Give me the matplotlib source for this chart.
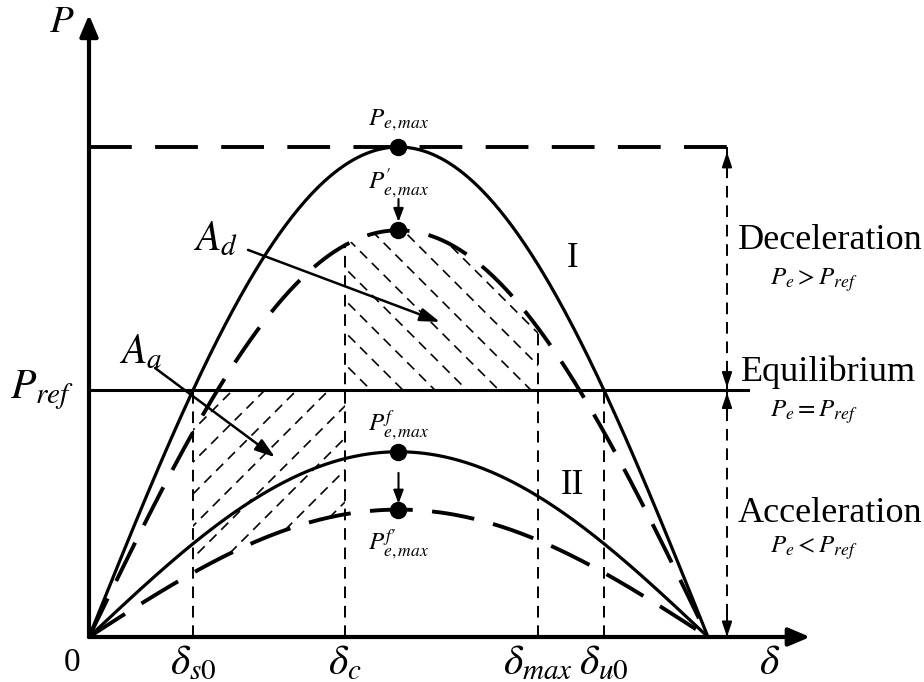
import numpy as np
import matplotlib
matplotlib.use("Agg")
import matplotlib.pyplot as plt
from matplotlib.patches import Polygon

plt.rcParams['mathtext.fontset'] = 'stix'
plt.rcParams['font.family'] = ['Liberation Serif', 'DejaVu Serif']

# peak values of the four power-angle curves (normalised to Pe,max)
p_max = 1.0          # curve I, pre-fault
p_max_prime = 0.83   # curve I, reduced
p_f = 0.378          # curve II, fault
p_f_prime = 0.26     # curve II, reduced
p_ref = 0.504

delta_c = 1.299
delta_max = 2.279
delta_s0 = np.arcsin(p_ref / p_max)
delta_u0 = np.pi - delta_s0

tick_pos = [delta_s0, delta_c, delta_max, delta_u0]
tick_lab = [r'$\delta_{s0}$', r'$\delta_c$', r'$\delta_{max}$', r'$\delta_{u0}$']

d = np.linspace(0, np.pi, 400)

fig = plt.figure(figsize=(9.24, 6.82), dpi=100)
ax = fig.add_axes([0, 0, 1, 1])
sx = 619 / np.pi   # px per rad
sy = 490           # px per unit power
ax.set_xlim(-89 / sx, (924 - 89) / sx)
ax.set_ylim((637 - 682) / sy, 637 / sy)
ax.axis('off')

# axes with arrows
ax_arrow = dict(arrowstyle='-|>,head_length=1.3,head_width=0.55', lw=3, color='k', shrinkA=0, shrinkB=0)
ax.annotate('', xy=(3.66, 0), xytext=(0, 0), arrowprops=ax_arrow)
ax.annotate('', xy=(0, 1.27), xytext=(0, 0), arrowprops=ax_arrow)

# curves
ax.plot(d, p_max * np.sin(d), color='k', lw=2.3)
ax.plot(d, p_max_prime * np.sin(d), color='k', lw=2.8, dashes=(11, 5))
ax.plot(d, p_f * np.sin(d), color='k', lw=2.3)
ax.plot(d, p_f_prime * np.sin(d), color='k', lw=2.8, dashes=(11, 5))

# reference and max lines
ax.plot([0, 3.355], [p_max, p_max], color='k', lw=2.8, dashes=(11, 6))
ax.plot([0, 3.345], [p_ref, p_ref], color='k', lw=2.2)

# vertical guides
ax.plot([delta_s0, delta_s0], [0, p_ref], color='k', lw=1.4, dashes=(6, 4))
ax.plot([delta_c, delta_c], [0, p_max_prime * np.sin(delta_c)], color='k', lw=1.4, dashes=(6, 4))
ax.plot([delta_max, delta_max], [0, p_max_prime * np.sin(delta_max)], color='k', lw=1.4, dashes=(6, 4))
ax.plot([delta_u0, delta_u0], [0, p_ref], color='k', lw=1.4, dashes=(6, 4))


def hatch_region(x_lo, x_hi, lower, upper, slope):
    xs = np.linspace(x_lo, x_hi, 200)
    verts = np.column_stack([np.r_[xs, xs[::-1]], np.r_[lower(xs), upper(xs)[::-1]]])
    poly = Polygon(verts, closed=True, fill=False, lw=0)
    ax.add_patch(poly)
    # slope in screen space converted to data units
    k = slope * sx / sy
    step = 32 / sx
    for c in np.arange(x_lo - 3, x_hi + 3, step):
        xx = np.array([x_lo - 1, x_hi + 1])
        ln, = ax.plot(xx, k * (xx - c), color='k', lw=1.2, dashes=(6, 4))
        ln.set_clip_path(poly)


# accelerating area A_a and decelerating area A_d
hatch_region(delta_s0, delta_c, lambda x: p_f_prime * np.sin(x), lambda x: np.full_like(x, p_ref), 1.0)
hatch_region(delta_c, delta_max, lambda x: np.full_like(x, p_ref), lambda x: p_max_prime * np.sin(x), -1.0)

# peak markers
mid = np.pi / 2
for pv in [p_max, p_max_prime, p_f, p_f_prime]:
    ax.plot(mid, pv, 'o', color='k', ms=11.5)

small_arrow = dict(arrowstyle='-|>,head_length=0.8,head_width=0.3', lw=1.5, color='k', shrinkA=0, shrinkB=0)
ax.annotate('', xy=(mid, p_max_prime + 0.017), xytext=(mid, 0.894), arrowprops=small_arrow)
ax.annotate('', xy=(mid, p_f_prime + 0.012), xytext=(mid, 0.335), arrowprops=small_arrow)

fs_small = 18
ax.text(mid, 1.055, r'$P_{e,max}$', ha='center', va='center', fontsize=fs_small)
ax.text(mid, 0.927, r'$P^{\prime}_{e,max}$', ha='center', va='center', fontsize=fs_small)
ax.text(mid, 0.433, r'$P^{f}_{e,max}$', ha='center', va='center', fontsize=fs_small)
ax.text(mid, 0.19, r'$P^{f\prime}_{e,max}$', ha='center', va='center', fontsize=fs_small)

# area labels
big_arrow = dict(arrowstyle='-|>,head_length=1.2,head_width=0.4', lw=1.8, color='k', shrinkA=0, shrinkB=0)
ax.text(0.64, 0.81, r'$A_d$', ha='center', va='center', fontsize=30)
ax.annotate('', xy=(1.781, 0.643), xytext=(0.807, 0.790), arrowprops=big_arrow)
ax.text(0.26, 0.58, r'$A_a$', ha='center', va='center', fontsize=30)
ax.annotate('', xy=(0.944, 0.367), xytext=(0.335, 0.549), arrowprops=big_arrow)

ax.text(2.456, 0.773, 'I', ha='center', va='center', fontsize=25)
ax.text(2.451, 0.31, 'II', ha='center', va='center', fontsize=25)

# axis labels
for pos, lab in zip(tick_pos, tick_lab):
    ax.text(pos, -0.055, lab, ha='center', va='center', fontsize=30)
ax.text(-0.086, -0.052, '0', ha='center', va='center', fontsize=24)
ax.text(3.456, -0.055, r'$\delta$', ha='center', va='center', fontsize=30)
ax.text(-0.137, 1.255, r'$P$', ha='center', va='center', fontsize=28)
ax.text(-0.24, p_ref, r'$P_{ref}$', ha='center', va='center', fontsize=30)

# right-hand region indicator
xr = 3.238
ax.plot([xr, xr], [p_max, p_ref], color='k', lw=1.4, dashes=(6, 4))
ax.plot([xr, xr], [p_ref, 0], color='k', lw=1.4, dashes=(6, 4))
head = dict(arrowstyle='-|>,head_length=0.9,head_width=0.3', lw=1.4, color='k', shrinkA=0, shrinkB=0)
for tip, tail in [(p_max - 0.01, p_max - 0.06), (p_ref + 0.005, p_ref + 0.05),
                  (p_ref - 0.005, p_ref - 0.05), (0.0, 0.05)]:
    ax.annotate('', xy=(xr, tip), xytext=(xr, tail), arrowprops=head)

ax.text(3.294, 0.81, 'Deceleration', ha='left', va='center', fontsize=26)
ax.text(3.455, 0.729, r'$P_e > P_{ref}$', ha='left', va='center', fontsize=18)
ax.text(3.31, 0.541, 'Equilibrium', ha='left', va='center', fontsize=26)
ax.text(3.455, 0.459, r'$P_e = P_{ref}$', ha='left', va='center', fontsize=18)
ax.text(3.294, 0.253, 'Acceleration', ha='left', va='center', fontsize=26)
ax.text(3.455, 0.182, r'$P_e < P_{ref}$', ha='left', va='center', fontsize=18)

fig.savefig('out.png', dpi=100)
